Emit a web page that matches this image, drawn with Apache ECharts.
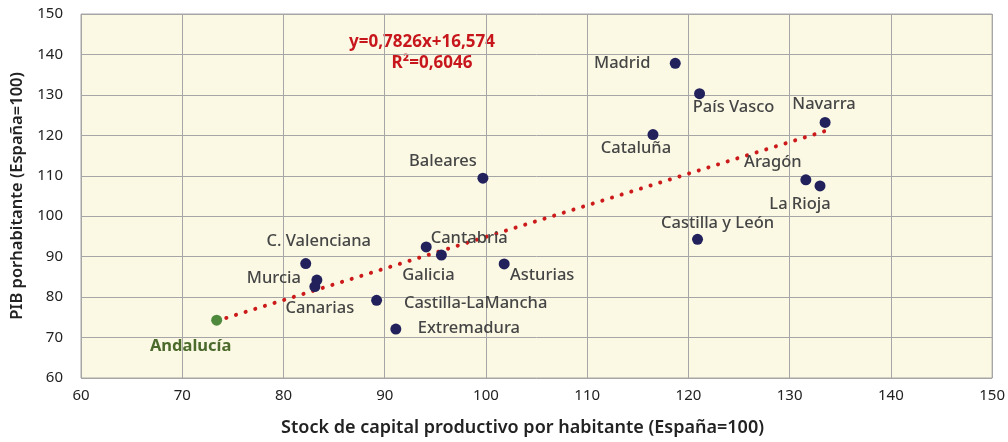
<!DOCTYPE html>
<html>
<head>
<meta charset="utf-8">
<script src="https://cdn.jsdelivr.net/npm/echarts@6/dist/echarts.min.js"></script>
<style>
  html, body { margin: 0; padding: 0; background: #fff; }
  #chart { width: 1008px; height: 442px; }
</style>
</head>
<body>
<div id="chart"></div>
<script>
// comunidades autónomas
const regions = ['Andalucía', 'Canarias', 'Murcia', 'C. Valenciana', 'Cantabria', 'Galicia',
    'Asturias', 'Castilla-LaMancha', 'Extremadura', 'Baleares', 'Madrid', 'País Vasco',
    'Cataluña', 'Navarra', 'Aragón', 'La Rioja', 'Castilla y León'];
// stock de capital productivo por habitante
const capital = [73.4, 83.1, 83.3, 82.2, 94.1, 95.6, 101.8, 89.2, 91.1, 99.7, 118.7, 121.1,
    116.5, 133.5, 131.6, 133.0, 120.9];
// PIB por habitante
const pib = [74.3, 82.6, 84.2, 88.3, 92.4, 90.4, 88.2, 79.2, 72.1, 109.4, 137.8, 130.3,
    120.2, 123.2, 109.0, 107.5, 94.3];
// línea de tendencia (extremos)
const trendX = [73.4, 133.8];
const trendY = [74.1, 121.3];
const equation = 'y=0,7826x+16,574';
const r2 = 'R²=0,6046';

// desplazamiento de las etiquetas (px)
const labelOffsets = {
    'Andalucía': [-26, 26], 'Canarias': [5, 22], 'Murcia': [-43, -2], 'C. Valenciana': [13, -22],
    'Cantabria': [43, -9], 'Galicia': [-13, 20], 'Asturias': [38, 11], 'Castilla-LaMancha': [99, 3],
    'Extremadura': [73, -1], 'Baleares': [-40, -17], 'Madrid': [-53, 0], 'País Vasco': [34, 14],
    'Cataluña': [-17, 14], 'Navarra': [-1, -18], 'Aragón': [-33, -18], 'La Rioja': [-20, 18],
    'Castilla y León': [20, -16]
};

const font = 'Noto Sans';

const points = regions.map((name, i) => {
    const highlight = name === 'Andalucía';
    return {
        name: name,
        value: [capital[i], pib[i]],
        itemStyle: {color: highlight ? '#4f8a3c' : '#22215c', opacity: 1},
        label: {
            show: true,
            position: 'inside',
            offset: labelOffsets[name],
            formatter: name,
            color: highlight ? '#4b6a2b' : '#454545',
            fontWeight: highlight ? 'bold' : 500,
            fontSize: 16.5,
            fontFamily: font
        }
    };
});

const chart = echarts.init(document.getElementById('chart'));
chart.setOption({
    animation: false,
    grid: {
        left: 81, right: 11, top: 14, bottom: 64,
        show: true,
        backgroundColor: '#fbf9e4',
        borderColor: '#a6a6a6',
        borderWidth: 1
    },
    xAxis: {
        type: 'value',
        min: 60, max: 150, interval: 10,
        name: 'Stock de capital productivo por habitante (España=100)',
        nameLocation: 'middle',
        nameGap: 41,
        nameTextStyle: {fontSize: 18, fontFamily: font, color: '#222', fontWeight: 600, padding: [0, 28, 0, 0]},
        axisLine: {show: false},
        axisTick: {show: false},
        axisLabel: {fontSize: 15, fontFamily: font, color: '#222', margin: 10},
        splitLine: {lineStyle: {color: '#a6a6a6', width: 1}}
    },
    yAxis: {
        type: 'value',
        min: 60, max: 150, interval: 10,
        name: 'PIB porhabitante (España=100)',
        nameLocation: 'middle',
        nameGap: 55,
        nameTextStyle: {fontSize: 16.5, fontFamily: font, color: '#222', fontWeight: 600},
        axisLine: {show: false},
        axisTick: {show: false},
        axisLabel: {fontSize: 15, fontFamily: font, color: '#222', margin: 18},
        splitLine: {lineStyle: {color: '#a6a6a6', width: 1}}
    },
    graphic: [
        {type: 'text', x: 422, y: 42, style: {text: equation, fill: '#c8161d', font: 'bold 17px "Noto Sans"', textAlign: 'center', textVerticalAlign: 'middle'}},
        {type: 'text', x: 432, y: 63, style: {text: r2, fill: '#c8161d', font: 'bold 17px "Noto Sans"', textAlign: 'center', textVerticalAlign: 'middle'}}
    ],
    series: [
        {
            type: 'line',
            data: trendX.map((x, i) => [x, trendY[i]]),
            showSymbol: false,
            silent: true,
            lineStyle: {color: '#cc1a1a', width: 4, type: [0.1, 10], cap: 'round'},
            z: 1
        },
        {
            type: 'scatter',
            data: points,
            symbolSize: 11,
            z: 2
        }
    ]
});
</script>
</body>
</html>
